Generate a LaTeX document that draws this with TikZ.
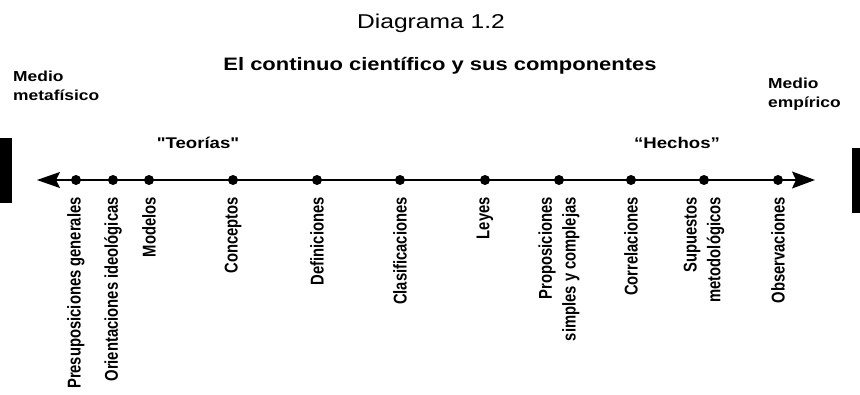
\documentclass[tikz,border=0pt]{standalone}
\usepackage{fontspec}
\setmainfont{Liberation Sans}
\newfontfamily\rectas{Liberation Sans}
\usetikzlibrary{arrows.meta}

\begin{document}
\begin{tikzpicture}[x=1pt,y=-1pt,
  etiqueta/.style={font=\bfseries\fontsize{14.8}{19}\selectfont, xscale=1.25, rotate=90, anchor=east, inner sep=0, align=right},
  punto/.style={circle, fill=black, inner sep=0, minimum size=10pt},
  medio/.style={font=\bfseries\fontsize{14.5}{19}\selectfont, xscale=1.2, inner sep=0, align=left, anchor=base west},
  polo/.style={font=\rectas\bfseries\fontsize{15.5}{18}\selectfont, xscale=1.2, inner sep=0, anchor=base}]
\useasboundingbox (0,0) rectangle (860,394);
\node[font=\fontsize{20}{24}\selectfont, xscale=1.23, inner sep=0, anchor=base] (titulo) at (431,28) {Diagrama 1.2};
\node[font=\bfseries\fontsize{18}{22}\selectfont, xscale=1.22, inner sep=0, anchor=base] (subtitulo) at (440,70) {El continuo científico y sus componentes};
\node[medio] (metafisico) at (13,100) {Medio\\metafísico};
\node[medio] (empirico) at (768,107) {Medio\\empírico};
\node[polo] (teorias) at (198,148) {"Teorías"};
\node[polo] (hechos) at (677,148) {“Hechos”};
% barras
\fill[black] (0,138) rectangle (12,203);
\fill[black] (852,148) rectangle (860,213);
% eje
\coordinate (izq) at (37,180);
\coordinate (der) at (815,180);
\draw[black, line width=1.6pt, {Stealth[length=23pt,width=16pt,inset=4pt]}-{Stealth[length=23pt,width=17pt,inset=4pt]}] (izq)--(der);
\foreach \x/\n/\t in {76/pre/{Presuposiciones generales}, 113/ori/{Orientaciones ideológicas},
  149/mod/{Modelos}, 233/con/{Conceptos}, 317/def/{Definiciones}, 400/cla/{Clasificaciones},
  485/ley/{Leyes}, 559/pro/{Proposiciones\\simples y complejas}, 631/cor/{Correlaciones},
  704/sup/{Supuestos\\metodológicos}, 778/obs/{Observaciones}} {
 \node[punto] (\n) at (\x,180) {};
 \node[etiqueta] (t\n) at (\x,197) {\t};
}
\end{tikzpicture}
\end{document}
